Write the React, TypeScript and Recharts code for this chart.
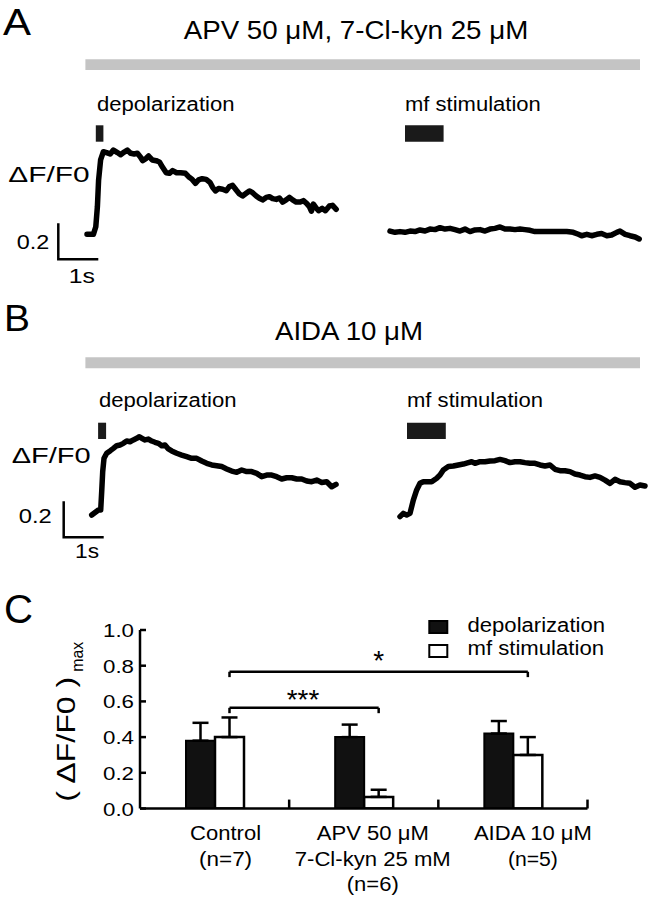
import React from 'react';
import {
  LineChart,
  Line,
  XAxis,
  YAxis,
  ReferenceArea,
  ComposedChart,
  Bar,
  ErrorBar,
  ReferenceLine,
  Legend,
} from 'recharts';

const FONT = '"Liberation Sans", Arial, Helvetica, sans-serif';

// ---------------- Trace data: [time (s), ΔF/F0] ----------------
const depolA: [number, number][] = [
  [0, 0], [0.16, 0], [0.22, 0.042], [0.26, 0.154], [0.29, 0.302], [0.34, 0.413], [0.41, 0.459],
  [0.49, 0.454], [0.58, 0.446], [0.66, 0.468], [0.76, 0.454], [0.84, 0.442], [0.93, 0.457],
  [1.01, 0.468], [1.09, 0.45], [1.18, 0.446], [1.26, 0.45], [1.34, 0.428], [1.39, 0.409],
  [1.48, 0.422], [1.54, 0.435], [1.63, 0.413], [1.73, 0.409], [1.81, 0.402], [1.89, 0.372],
  [1.98, 0.342], [2.06, 0.339], [2.14, 0.354], [2.24, 0.342], [2.34, 0.342], [2.46, 0.339],
  [2.54, 0.32], [2.63, 0.305], [2.71, 0.283], [2.79, 0.302], [2.88, 0.309], [2.98, 0.305],
  [3.08, 0.287], [3.14, 0.261], [3.21, 0.241], [3.29, 0.254], [3.39, 0.25], [3.48, 0.242],
  [3.56, 0.265], [3.64, 0.272], [3.73, 0.246], [3.81, 0.224], [3.89, 0.213], [3.98, 0.228],
  [4.06, 0.241], [4.14, 0.231], [4.23, 0.213], [4.31, 0.2], [4.39, 0.191], [4.48, 0.205],
  [4.56, 0.209], [4.64, 0.198], [4.73, 0.194], [4.81, 0.202], [4.89, 0.179], [4.98, 0.191],
  [5.06, 0.205], [5.14, 0.191], [5.23, 0.179], [5.33, 0.179], [5.41, 0.187], [5.49, 0.172],
  [5.56, 0.154], [5.61, 0.128], [5.66, 0.168], [5.73, 0.146], [5.79, 0.131], [5.88, 0.144],
  [5.96, 0.131], [6.06, 0.157], [6.14, 0.161], [6.23, 0.139],
];

const mfA: [number, number][] = [
  [0, 0.018], [0.125, 0.011], [0.25, 0.015], [0.375, 0.011], [0.5, 0.018], [0.625, 0.015],
  [0.75, 0.024], [0.875, 0.018], [1.0, 0.029], [1.125, 0.026], [1.25, 0.037], [1.375, 0.029],
  [1.5, 0.033], [1.625, 0.026], [1.75, 0.018], [1.875, 0.029], [2.0, 0.015], [2.125, 0.024],
  [2.25, 0.026], [2.375, 0.018], [2.5, 0.029], [2.625, 0.033], [2.75, 0.041], [2.875, 0.029],
  [3.0, 0.029], [3.125, 0.026], [3.25, 0.029], [3.375, 0.026], [3.5, 0.022], [3.625, 0.015],
  [3.75, 0.015], [3.92, 0.015], [4.08, 0.015], [4.25, 0.015], [4.42, 0.015], [4.58, 0.011],
  [4.71, 0.0], [4.79, -0.008], [4.92, 0.0], [5.04, -0.008], [5.17, 0.0], [5.29, 0.004],
  [5.42, -0.008], [5.54, -0.004], [5.67, 0.011], [5.75, 0.018], [5.88, 0.0], [6.0, -0.008],
  [6.13, -0.015], [6.23, -0.026],
];

const depolB: [number, number][] = [
  [0, 0], [0.167, 0.028], [0.225, 0.028], [0.25, 0.13], [0.275, 0.241], [0.308, 0.315],
  [0.375, 0.343], [0.458, 0.356], [0.542, 0.37], [0.625, 0.385], [0.708, 0.389], [0.792, 0.398],
  [0.875, 0.411], [0.958, 0.407], [1.042, 0.417], [1.125, 0.426], [1.192, 0.435], [1.25, 0.426],
  [1.333, 0.417], [1.417, 0.422], [1.5, 0.411], [1.583, 0.404], [1.667, 0.398], [1.75, 0.385],
  [1.833, 0.389], [1.917, 0.367], [2.0, 0.356], [2.125, 0.343], [2.25, 0.333], [2.375, 0.324],
  [2.5, 0.315], [2.625, 0.315], [2.75, 0.3], [2.875, 0.287], [3.0, 0.278], [3.125, 0.274],
  [3.25, 0.269], [3.375, 0.256], [3.5, 0.244], [3.625, 0.237], [3.75, 0.25], [3.875, 0.241],
  [4.0, 0.241], [4.125, 0.231], [4.25, 0.213], [4.375, 0.222], [4.5, 0.222], [4.625, 0.213],
  [4.75, 0.2], [4.875, 0.207], [5.0, 0.207], [5.125, 0.2], [5.25, 0.2], [5.375, 0.189],
  [5.5, 0.185], [5.625, 0.194], [5.75, 0.181], [5.875, 0.185], [6.0, 0.157], [6.108, 0.17],
];

const mfB: [number, number][] = [
  [0, -0.009], [0.083, 0.009], [0.167, 0.0], [0.25, 0.009], [0.333, 0.083], [0.417, 0.139],
  [0.5, 0.176], [0.583, 0.185], [0.708, 0.185], [0.792, 0.185], [0.917, 0.204], [1.0, 0.222],
  [1.083, 0.25], [1.208, 0.269], [1.333, 0.272], [1.458, 0.278], [1.583, 0.283], [1.708, 0.291],
  [1.792, 0.296], [1.875, 0.287], [2.0, 0.296], [2.125, 0.296], [2.25, 0.3], [2.375, 0.302],
  [2.5, 0.309], [2.625, 0.302], [2.75, 0.291], [2.875, 0.296], [3.0, 0.296], [3.125, 0.291],
  [3.25, 0.287], [3.375, 0.287], [3.5, 0.278], [3.625, 0.272], [3.75, 0.278], [3.875, 0.254],
  [4.0, 0.246], [4.125, 0.246], [4.25, 0.241], [4.375, 0.228], [4.5, 0.222], [4.625, 0.213],
  [4.75, 0.209], [4.875, 0.217], [5.0, 0.209], [5.125, 0.194], [5.25, 0.176], [5.375, 0.198],
  [5.5, 0.185], [5.625, 0.18], [5.75, 0.176], [5.875, 0.154], [6.0, 0.167], [6.125, 0.161],
];

// stimulus timing (s, relative to each trace start)
const stimDepA = [0.22, 0.41];
const stimMfA = [0.375, 1.34];
const stimDepB = [0.16, 0.36];
const stimMfB = [0.175, 1.145];

// scale bar sizes
const scaleBarTime = 1; // s
const scaleBarAmp = 0.2; // ΔF/F0

// ---------------- Bar chart data (panel C) ----------------
const categories = ['Control', 'APV', 'AIDA'];
const categoryLabels = [
  ['Control', '(n=7)'],
  ['APV 50 μM', '7-Cl-kyn 25 mM', '(n=6)'],
  ['AIDA 10 μM', '(n=5)'],
];
const depMean = [0.38, 0.4, 0.42];
const depErr = [0.1, 0.07, 0.07];
const mfMean = [0.4, 0.065, 0.3];
const mfErr = [0.11, 0.04, 0.1];
const yTicks = [0, 0.2, 0.4, 0.6, 0.8, 1.0];
const brackets = [
  { from: 0, to: 2, y: 0.766, label: '*' },
  { from: 0, to: 1, y: 0.564, label: '***' },
];

// ---------------- layout constants ----------------
const PX_PER_S = 40;
const PX_PER_UNIT = 180;
const W = 650;

type PanelCfg = {
  height: number;
  x0dep: number;
  x0mf: number;
  y0: number;
  depol: [number, number][];
  mf: [number, number][];
  stimDep: number[];
  stimMf: number[];
  stimY: [number, number];
  grayX: [number, number];
  grayY: [number, number];
  scaleAnchor: [number, number];
};

function TracePanel({ cfg }: { cfg: PanelCfg }) {
  const H = cfg.height;
  const depDomain = [-cfg.x0dep / PX_PER_S, (W - cfg.x0dep) / PX_PER_S];
  const mfDomain = [-cfg.x0mf / PX_PER_S, (W - cfg.x0mf) / PX_PER_S];
  const yDomain = [-(H - cfg.y0) / PX_PER_UNIT, cfg.y0 / PX_PER_UNIT];
  const tx = (px: number) => (px - cfg.x0dep) / PX_PER_S;
  const vy = (py: number) => (cfg.y0 - py) / PX_PER_UNIT;
  const depData = cfg.depol.map(([t, v]) => ({ t, v }));
  const mfData = cfg.mf.map(([t, v]) => ({ t, v }));
  const sx = tx(cfg.scaleAnchor[0]);
  const sy = vy(cfg.scaleAnchor[1]);
  const scaleData = [
    { t: sx, v: sy + scaleBarAmp },
    { t: sx, v: sy },
    { t: sx + scaleBarTime, v: sy },
  ];
  return (
    <LineChart width={W} height={H} margin={{ top: 0, right: 0, bottom: 0, left: 0 }}>
      <XAxis xAxisId="dep" type="number" dataKey="t" domain={depDomain} hide allowDataOverflow />
      <XAxis xAxisId="mf" type="number" dataKey="t" domain={mfDomain} hide allowDataOverflow />
      <YAxis type="number" domain={yDomain} hide allowDataOverflow />
      <ReferenceArea
        xAxisId="dep"
        x1={tx(cfg.grayX[0])}
        x2={tx(cfg.grayX[1])}
        y1={vy(cfg.grayY[1])}
        y2={vy(cfg.grayY[0])}
        fill="#c4c4c4"
        fillOpacity={1}
        stroke="none"
        ifOverflow="visible"
      />
      <ReferenceArea
        xAxisId="dep"
        x1={cfg.stimDep[0]}
        x2={cfg.stimDep[1]}
        y1={vy(cfg.stimY[1])}
        y2={vy(cfg.stimY[0])}
        fill="#1a1a1a"
        fillOpacity={1}
        stroke="none"
        ifOverflow="visible"
      />
      <ReferenceArea
        xAxisId="mf"
        x1={cfg.stimMf[0]}
        x2={cfg.stimMf[1]}
        y1={vy(cfg.stimY[1])}
        y2={vy(cfg.stimY[0])}
        fill="#1a1a1a"
        fillOpacity={1}
        stroke="none"
        ifOverflow="visible"
      />
      <Line
        xAxisId="dep"
        data={depData}
        dataKey="v"
        type="linear"
        stroke="#000"
        strokeWidth={5.5}
        strokeLinejoin="round"
        strokeLinecap="round"
        dot={false}
        isAnimationActive={false}
      />
      <Line
        xAxisId="mf"
        data={mfData}
        dataKey="v"
        type="linear"
        stroke="#000"
        strokeWidth={5.5}
        strokeLinejoin="round"
        strokeLinecap="round"
        dot={false}
        isAnimationActive={false}
      />
      <Line
        xAxisId="dep"
        data={scaleData}
        dataKey="v"
        type="linear"
        stroke="#000"
        strokeWidth={2.5}
        strokeLinejoin="miter"
        dot={false}
        isAnimationActive={false}
      />
    </LineChart>
  );
}

const panelA: PanelCfg = {
  height: 290,
  x0dep: 87,
  x0mf: 390,
  y0: 234.3,
  depol: depolA,
  mf: mfA,
  stimDep: stimDepA,
  stimMf: stimMfA,
  stimY: [125.3, 141.7],
  grayX: [85.4, 640],
  grayY: [59.3, 70],
  scaleAnchor: [58.3, 259.3],
};

const panelB: PanelCfg = {
  height: 290,
  x0dep: 91.7,
  x0mf: 400,
  y0: 225,
  depol: depolB,
  mf: mfB,
  stimDep: stimDepB,
  stimMf: stimMfB,
  stimY: [132.7, 149],
  grayX: [85.4, 640],
  grayY: [67.3, 78.3],
  scaleAnchor: [63.7, 247.3],
};

// ---------------- Panel C ----------------
const LABEL_DX = [11, 9, 20];
const LABEL_LEN: Record<string, number> = {
  Control: 71,
  '(n=7)': 53,
  'APV 50 μM': 112,
  '7-Cl-kyn 25 mM': 156,
  '(n=6)': 52,
  'AIDA 10 μM': 118,
  '(n=5)': 50,
};
const LINE_BASE = [31.5, 57, 82.5];

const XTick = (props: any) => {
  const { x, y, payload } = props;
  const i = categories.indexOf(payload.value);
  const lines = categoryLabels[i] || [];
  return (
    <g>
      {lines.map((ln, k) => (
        <text
          key={k}
          x={x + LABEL_DX[i]}
          y={y + LINE_BASE[k]}
          textAnchor="middle"
          fontSize={20}
          fontFamily={FONT}
          fill="#000"
          textLength={LABEL_LEN[ln]}
          lengthAdjust="spacingAndGlyphs"
        >
          {ln}
        </text>
      ))}
    </g>
  );
};

const YTick = (props: any) => {
  const { x, y, payload } = props;
  return (
    <g>
      <line x1={x + 6} x2={x + 12} y1={y} y2={y} stroke="#000" strokeWidth={2.5} />
      <text
        x={x}
        y={y + 7}
        textAnchor="end"
        fontSize={19}
        fontFamily={FONT}
        fill="#000"
        textLength={31}
        lengthAdjust="spacingAndGlyphs"
      >
        {Number(payload.value).toFixed(1)}
      </text>
    </g>
  );
};

const renderLegend = (props: any) => {
  const items = props.payload || [];
  return (
    <svg width={200} height={52} style={{ overflow: 'visible', display: 'block' }}>
      {items.map((it: any, i: number) => (
        <g key={i}>
          <rect
            x={9.3}
            y={11 + i * 24}
            width={18}
            height={12}
            fill={it.color}
            stroke="#000"
            strokeWidth={2}
          />
          <text
            x={47.5}
            y={21.7 + i * 23.5}
            fontSize={20}
            fontFamily={FONT}
            fill="#000"
            textLength={i === 0 ? 137.5 : 136.5}
            lengthAdjust="spacingAndGlyphs"
          >
            {it.value}
          </text>
        </g>
      ))}
    </svg>
  );
};

function BarPanel() {
  const rows = categories.map((c, i) => ({
    name: c,
    pos: i + 0.5,
    dep: depMean[i],
    depE: [0, depErr[i]],
    mf: mfMean[i],
    mfE: [0, mfErr[i]],
  }));
  const MF_OFFSET = 0.6; // centre of the open bar within a category (category units)
  return (
    <ComposedChart
      width={650}
      height={320}
      data={rows}
      margin={{ top: 50, right: 62.5, bottom: 6.5, left: 40 }}
      barGap={0}
    >
      <XAxis
        dataKey="name"
        axisLine={{ stroke: '#000', strokeWidth: 2.5 }}
        tickLine={false}
        tickSize={0}
        tickMargin={0}
        tick={<XTick />}
        height={85}
        interval={0}
      />
      <XAxis
        xAxisId="num"
        dataKey="pos"
        type="number"
        domain={[0, 3]}
        hide
        allowDataOverflow
      />
      <YAxis
        type="number"
        domain={[0, 1]}
        ticks={yTicks}
        axisLine={{ stroke: '#000', strokeWidth: 2.5 }}
        tickLine={false}
        tickSize={0}
        tickMargin={6}
        tick={<YTick />}
        width={100}
        allowDataOverflow
      />
      <Bar
        dataKey="dep"
        name="depolarization"
        fill="#111"
        stroke="#000"
        strokeWidth={2}
        barSize={29}
        isAnimationActive={false}
      >
        <ErrorBar dataKey="depE" width={8} stroke="#000" strokeWidth={2.5} isAnimationActive={false} />
      </Bar>
      <Bar
        dataKey="mf"
        name="mf stimulation"
        fill="#fff"
        stroke="#000"
        strokeWidth={2.5}
        barSize={29}
        isAnimationActive={false}
      >
        <ErrorBar dataKey="mfE" width={8} stroke="#000" strokeWidth={2.5} isAnimationActive={false} />
      </Bar>
      {[1, 2, 3].map((b) => (
        <ReferenceLine
          key={'t' + b}
          xAxisId="num"
          segment={[
            { x: b, y: 0 },
            { x: b, y: 0.05 },
          ]}
          stroke="#000"
          strokeWidth={2.5}
          ifOverflow="visible"
        />
      ))}
      {brackets.map((br, k) => {
        const xa = br.from + MF_OFFSET;
        const xb = br.to + MF_OFFSET;
        const drop = 0.03;
        return [
          <ReferenceLine
            key={'h' + k}
            xAxisId="num"
            segment={[
              { x: xa, y: br.y },
              { x: xb, y: br.y },
            ]}
            stroke="#000"
            strokeWidth={2.5}
            ifOverflow="visible"
          />,
          <ReferenceLine
            key={'l' + k}
            xAxisId="num"
            segment={[
              { x: xa, y: br.y },
              { x: xa, y: br.y - drop },
            ]}
            stroke="#000"
            strokeWidth={2.5}
            ifOverflow="visible"
          />,
          <ReferenceLine
            key={'r' + k}
            xAxisId="num"
            segment={[
              { x: xb, y: br.y },
              { x: xb, y: br.y - drop },
            ]}
            stroke="#000"
            strokeWidth={2.5}
            ifOverflow="visible"
          />,
        ];
      })}
      <Legend
        layout="horizontal"
        verticalAlign="middle"
        align="center"
        content={renderLegend}
        wrapperStyle={{ position: 'absolute', left: 420, top: 30, width: 200, height: 52 }}
      />
    </ComposedChart>
  );
}

const T = ({
  x,
  y,
  s,
  len,
  a = 'start',
  children,
}: {
  x: number;
  y: number;
  s: number;
  len?: number;
  a?: 'start' | 'middle' | 'end';
  children: React.ReactNode;
}) => (
  <text
    x={x}
    y={y}
    fontSize={s}
    fontFamily={FONT}
    fill="#000"
    textAnchor={a}
    textLength={len}
    lengthAdjust={len ? 'spacingAndGlyphs' : undefined}
  >
    {children}
  </text>
);

export default function App() {
  return (
    <div
      style={{
        position: 'absolute',
        left: 0,
        top: 0,
        width: 650,
        height: 900,
        background: '#fff',
        overflow: 'hidden',
        fontFamily: FONT,
      }}
    >
      <div style={{ position: 'absolute', left: 0, top: 0 }}>
        <TracePanel cfg={panelA} />
      </div>
      <div style={{ position: 'absolute', left: 0, top: 290 }}>
        <TracePanel cfg={panelB} />
      </div>
      <div style={{ position: 'absolute', left: 0, top: 580 }}>
        <BarPanel />
      </div>
      <svg
        width={650}
        height={900}
        style={{ position: 'absolute', left: 0, top: 0, pointerEvents: 'none' }}
      >
        {/* Panel A */}
        <T x={3} y={35} s={37} len={28}>A</T>
        <T x={183.7} y={39.3} s={25} len={344.6}>APV 50 μM, 7-Cl-kyn 25 μM</T>
        <T x={97} y={110.5} s={19.5} len={137.5}>depolarization</T>
        <T x={405} y={110.5} s={19.5} len={135.8}>mf stimulation</T>
        <T x={8.3} y={181.7} s={22.5} len={81.3}>ΔF/F0</T>
        <T x={16.7} y={249.3} s={20} len={32.5}>0.2</T>
        <T x={68.7} y={283.3} s={21} len={26.2}>1s</T>

        {/* Panel B */}
        <T x={4} y={331} s={37} len={26}>B</T>
        <T x={275} y={340} s={25} len={148}>AIDA 10 μM</T>
        <T x={99} y={407.3} s={19.5} len={137.5}>depolarization</T>
        <T x={407} y={407.3} s={19.5} len={136}>mf stimulation</T>
        <T x={11.7} y={462.7} s={22.5} len={79}>ΔF/F0</T>
        <T x={18.7} y={523.3} s={20} len={33}>0.2</T>
        <T x={75} y={558.3} s={21} len={24}>1s</T>

        {/* Panel C */}
        <T x={4} y={623} s={40} len={29}>C</T>
        <g transform="translate(75 739.2) rotate(-90)">
          <T x={0} y={0} s={26} len={125} a="middle">( ΔF/F0 )</T>
        </g>
        <g transform="translate(83.3 656.7) rotate(-90)">
          <T x={0} y={0} s={17} len={30} a="middle">max</T>
        </g>
        <T x={378.7} y={670.3} s={28} a="middle">*</T>
        <T x={303} y={708.7} s={28} len={32.6} a="middle">***</T>
      </svg>
    </div>
  );
}
